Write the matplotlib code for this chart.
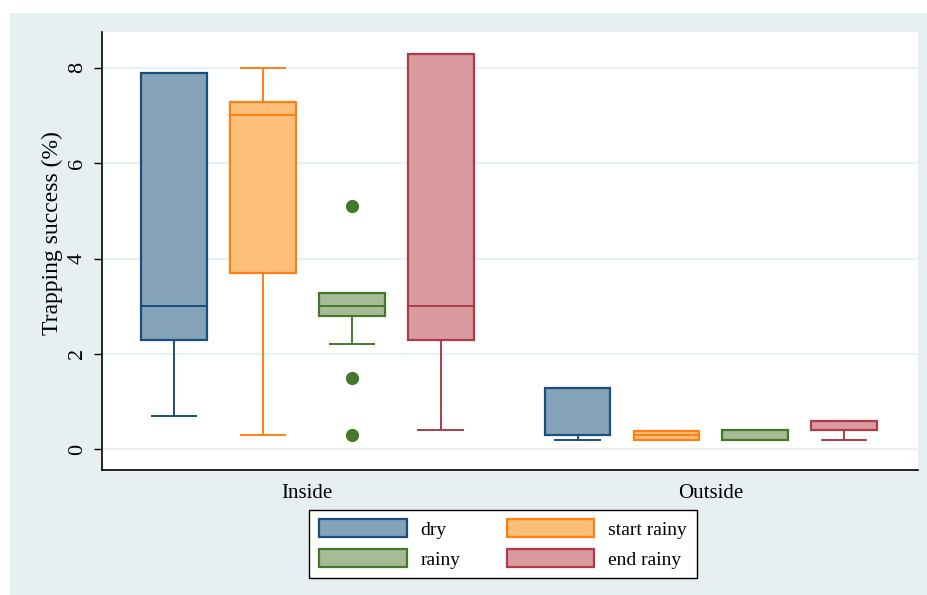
import matplotlib.pyplot as plt
from matplotlib.patches import Patch, Rectangle

plt.rcParams['font.family'] = ['Liberation Serif', 'DejaVu Serif']

groups = ['Inside', 'Outside']
seasons = ['dry', 'start rainy', 'rainy', 'end rainy']

# box statistics per season, one list per location
inside_q1 = [2.3, 3.7, 2.8, 2.3]
inside_med = [3.0, 7.0, 3.0, 3.0]
inside_q3 = [7.9, 7.28, 3.27, 8.29]
inside_lo = [0.7, 0.3, 2.2, 0.4]
inside_hi = [7.9, 8.0, 3.27, 8.29]
inside_out = [[], [], [5.1, 1.5, 0.3], []]

outside_q1 = [0.3, 0.2, 0.2, 0.4]
outside_med = [0.3, 0.3, 0.2, 0.4]
outside_q3 = [1.29, 0.38, 0.4, 0.59]
outside_lo = [0.19, 0.2, 0.2, 0.2]
outside_hi = [1.29, 0.38, 0.4, 0.59]
outside_out = [[], [], [], []]

edge_colors = ['#1a4f7c', '#ff8010', '#45782b', '#b03a48']
fill_colors = ['#85a3b8', '#ffbf7a', '#a6bb96', '#d99aa0']

group_pos = [0, 4.54]
offsets = [-1.5, -0.5, 0.5, 1.5]

stats = []
positions = []
colors = []
tables = [
    (inside_q1, inside_med, inside_q3, inside_lo, inside_hi, inside_out),
    (outside_q1, outside_med, outside_q3, outside_lo, outside_hi, outside_out),
]
for g, (q1, med, q3, lo, hi, out) in zip(group_pos, tables):
    for i in range(len(seasons)):
        stats.append({'q1': q1[i], 'med': med[i], 'q3': q3[i],
                      'whislo': lo[i], 'whishi': hi[i], 'fliers': out[i]})
        positions.append(g + offsets[i])
        colors.append(i)

fig = plt.figure(figsize=(9.28, 5.95), dpi=100, facecolor='white')
fig.patches.append(Rectangle((10 / 928, 0), 1, 1 - 13 / 595, transform=fig.transFigure,
                             facecolor='#e8eff2', edgecolor='none', zorder=-1))
ax = fig.add_axes([102 / 928, 1 - 470 / 595, 816 / 928, 438 / 595])
ax.set_facecolor('white')

bp = ax.bxp(stats, positions=positions, widths=0.74, capwidths=0.5,
            patch_artist=True, showfliers=True)
for k, ci in enumerate(colors):
    ec, fc = edge_colors[ci], fill_colors[ci]
    bp['boxes'][k].set(facecolor=fc, edgecolor=ec, linewidth=1.6, zorder=3)
    bp['medians'][k].set(color=ec, linewidth=1.4, zorder=4)
    for w in bp['whiskers'][2 * k:2 * k + 2]:
        w.set(color=ec, linewidth=1.4)
    for c in bp['caps'][2 * k:2 * k + 2]:
        c.set(color=ec, linewidth=1.4)
    bp['fliers'][k].set(marker='o', markerfacecolor=ec, markeredgecolor=ec,
                        markersize=8.5, linestyle='none')

ax.set_xlim(-2.31, 6.87)
ax.set_ylim(-0.434, 8.75)
ax.set_yticks([0, 2, 4, 6, 8])
ax.set_yticklabels(['0', '2', '4', '6', '8'], rotation=90, va='center', fontsize=16)
ax.set_xticks(group_pos)
ax.set_xticklabels(groups, fontsize=15)
ax.tick_params(axis='x', length=0, pad=10)
ax.tick_params(axis='y', length=6, width=1, pad=5)
ax.grid(axis='y', color='#eaf0f3', linewidth=1.6)
ax.set_axisbelow(True)
for s in ['top', 'right']:
    ax.spines[s].set_visible(False)
ax.spines['left'].set_linewidth(1.2)
ax.spines['bottom'].set_linewidth(1.2)
ax.set_ylabel('Trapping success (%)', fontsize=17)
ax.yaxis.set_label_coords(-0.048, 0.541)

order = [0, 2, 1, 3]
handles = [Patch(facecolor=fill_colors[i], edgecolor=edge_colors[i], linewidth=1.6,
                 label=seasons[i]) for i in order]
leg = fig.legend(handles=handles, ncol=2, loc='center', bbox_to_anchor=(503 / 928, 1 - 544 / 595),
                 fontsize=14, frameon=True, fancybox=False, edgecolor='black',
                 facecolor='white', framealpha=1,
                 handlelength=4.5, handleheight=1.0, handletextpad=0.7,
                 columnspacing=2.4, labelspacing=0.55, borderpad=0.5)
leg.get_frame().set_linewidth(1.0)

fig.savefig('out.png', dpi=100, facecolor=fig.get_facecolor())
